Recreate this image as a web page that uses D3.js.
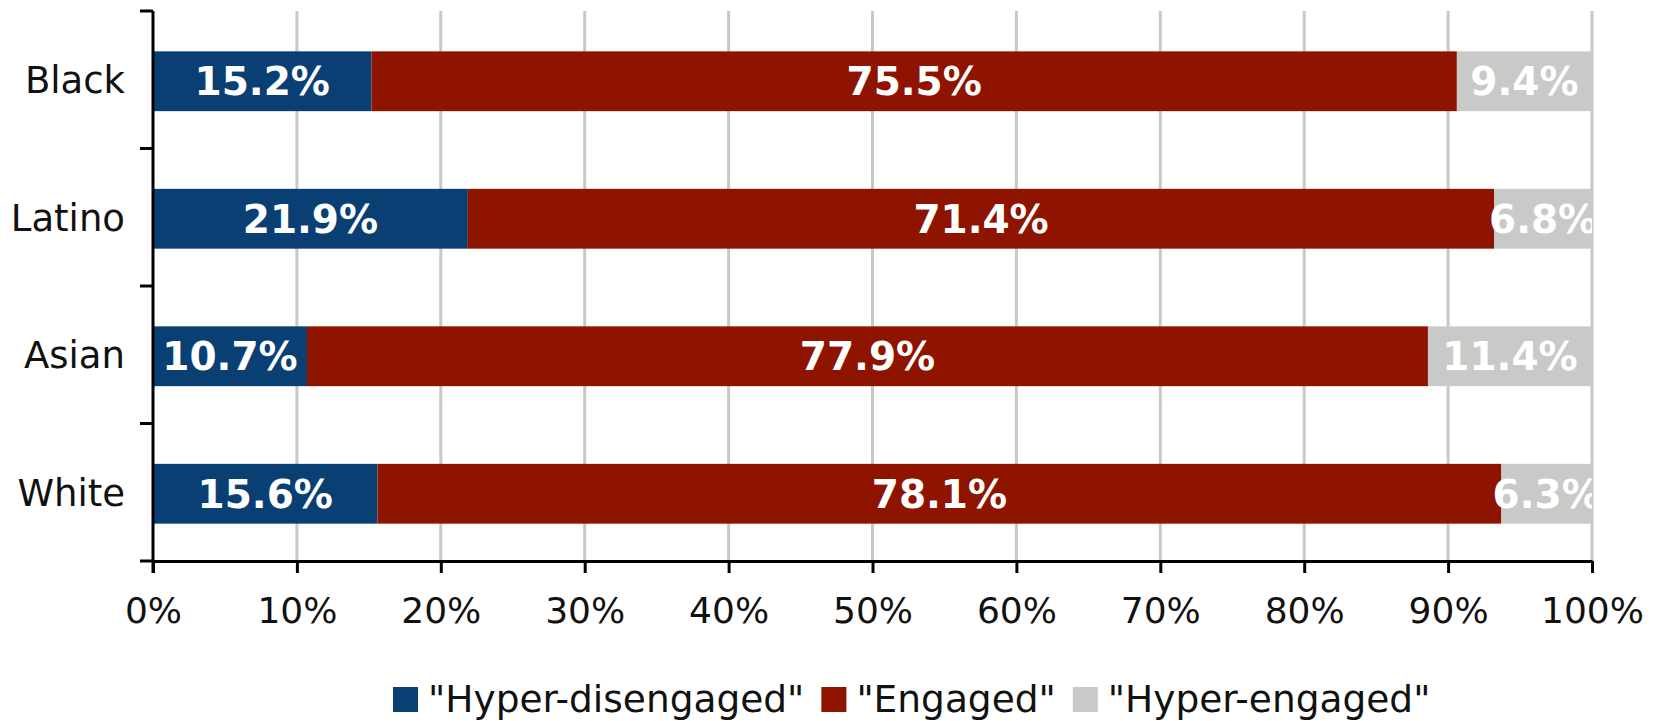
<!DOCTYPE html>
<html>
<head>
<meta charset="utf-8">
<script src="https://cdn.jsdelivr.net/npm/d3@7/dist/d3.min.js"></script>
<style>
  html, body { margin: 0; padding: 0; background: #fff; }
  svg { display: block; font-family: "DejaVu Sans", Verdana, sans-serif; }
</style>
</head>
<body>
<svg id="chart" width="1657" height="721"></svg>
<script>
// ---- data ----
const categories = ["Black", "Latino", "Asian", "White"];
const seriesNames = ["\"Hyper-disengaged\"", "\"Engaged\"", "\"Hyper-engaged\""];
const hyperDisengaged = [15.2, 21.9, 10.7, 15.6];
const engaged = [75.5, 71.4, 77.9, 78.1];
const hyperEngaged = [9.4, 6.8, 11.4, 6.3];
const xTickValues = [0, 0.1, 0.2, 0.3, 0.4, 0.5, 0.6, 0.7, 0.8, 0.9, 1.0];
const colors = ["#0a3f74", "#8f1400", "#c9c9c7"];

(function () {
// ---- build table ----
const keys = ["hd", "en", "he"];
const rows = categories.map((c, i) => ({
  cat: c, hd: hyperDisengaged[i], en: engaged[i], he: hyperEngaged[i]
}));
const stacked = d3.stack().keys(keys).offset(d3.stackOffsetExpand)(rows);

const svg = d3.select("#chart");
const pLeft = 153, pRight = 1592, pTop = 11, pBottom = 561;

const x = d3.scaleLinear().domain([0, 1]).range([pLeft, pRight]);
const y = d3.scaleBand().domain(categories).range([pTop, pBottom])
  .paddingInner(0.565).paddingOuter(0.2825);
const color = d3.scaleOrdinal().domain(keys).range(colors);

// gridlines
svg.append("g").selectAll("line")
  .data(xTickValues.filter(v => v > 0))
  .join("line")
  .attr("x1", d => x(d)).attr("x2", d => x(d))
  .attr("y1", pTop).attr("y2", pBottom)
  .attr("stroke", "#c8c8c8").attr("stroke-width", 3);

// clip for labels
svg.append("clipPath").attr("id", "plotclip")
  .append("rect").attr("x", pLeft).attr("y", pTop)
  .attr("width", pRight - pLeft).attr("height", pBottom - pTop);

// bars
const layers = svg.append("g").attr("transform", "translate(0,1.5)");
layers.selectAll("g")
  .data(stacked)
  .join("g")
  .attr("fill", d => color(d.key))
  .selectAll("rect")
  .data(d => d)
  .join("rect")
  .attr("x", d => x(d[0]))
  .attr("width", d => x(d[1]) - x(d[0]))
  .attr("y", d => y(d.data.cat))
  .attr("height", y.bandwidth());

// bar labels
const labels = svg.append("g").attr("clip-path", "url(#plotclip)")
  .attr("transform", "translate(0,1.5)");
stacked.forEach(layer => {
  labels.append("g").selectAll("text")
    .data(layer)
    .join("text")
    .attr("x", d => (x(d[0]) + x(d[1])) / 2)
    .attr("y", d => y(d.data.cat) + y.bandwidth() / 2)
    .attr("dy", "0.36em")
    .attr("text-anchor", "middle")
    .attr("fill", "#ffffff")
    .attr("font-weight", "bold")
    .attr("font-size", 39)
    .text(d => d.data[layer.key].toFixed(1) + "%");
});

// x axis
const xAxis = d3.axisBottom(x).tickValues(xTickValues)
  .tickFormat(d3.format(".0%")).tickSize(12).tickSizeOuter(0).tickPadding(24);
const gx = svg.append("g").attr("transform", `translate(0,${pBottom})`).call(xAxis);
gx.select(".domain").attr("stroke", "#000").attr("stroke-width", 3);
gx.selectAll(".tick line").attr("stroke", "#000").attr("stroke-width", 3);
gx.selectAll(".tick text").attr("font-size", 36).attr("fill", "#111")
  .attr("font-family", "DejaVu Sans, Verdana, sans-serif");

// y axis
const yAxis = d3.axisLeft(y).tickSize(0).tickSizeOuter(0).tickPadding(28);
const gy = svg.append("g").attr("transform", `translate(${pLeft},1.5)`).call(yAxis);
gy.select(".domain").remove();
gy.selectAll(".tick text").attr("font-size", 37).attr("fill", "#111")
  .attr("font-family", "DejaVu Sans, Verdana, sans-serif");

// y axis line and boundary ticks
svg.append("line").attr("x1", pLeft).attr("x2", pLeft)
  .attr("y1", pTop).attr("y2", pBottom + 12)
  .attr("stroke", "#000").attr("stroke-width", 3);
const boundaries = categories.map(c => y(c) - y.step() * y.paddingInner() / 2)
  .map((v, i) => i === 0 ? pTop : v).concat([pBottom]);
svg.append("g").selectAll("line")
  .data(boundaries)
  .join("line")
  .attr("x1", pLeft - 13).attr("x2", pLeft)
  .attr("y1", d => d).attr("y2", d => d)
  .attr("stroke", "#000").attr("stroke-width", 3);

// legend
const legend = svg.append("g").attr("transform", "translate(393,698)");
let cx = 0;
keys.forEach((k, i) => {
  const g = legend.append("g").attr("transform", `translate(${cx},0)`);
  g.append("rect").attr("x", 0).attr("y", -11).attr("width", 25).attr("height", 25)
    .attr("fill", colors[i]);
  const t = g.append("text").attr("x", 35).attr("dy", "0.36em")
    .attr("font-size", 37.5).attr("fill", "#111").text(seriesNames[i]);
  cx += 35 + t.node().getComputedTextLength() + 17;
});
})();
</script>
</body>
</html>
